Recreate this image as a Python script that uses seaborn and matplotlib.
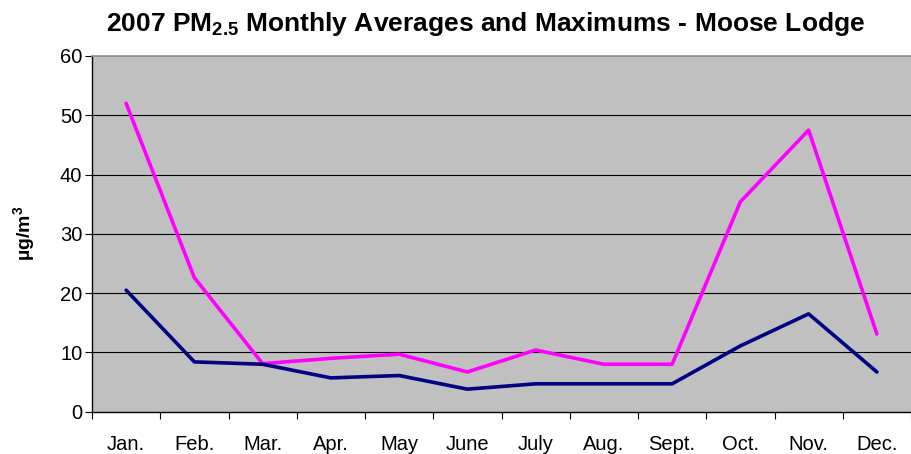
import numpy as np
import pandas as pd
import seaborn as sns
import matplotlib
matplotlib.use("Agg")
import matplotlib.pyplot as plt
from matplotlib.ticker import FixedLocator

# data
months = ["Jan.", "Feb.", "Mar.", "Apr.", "May", "June", "July", "Aug.", "Sept.", "Oct.", "Nov.", "Dec."]
maximums = [52.0, 22.6, 8.1, 9.0, 9.7, 6.7, 10.4, 8.0, 8.0, 35.4, 47.5, 13.1]
averages = [20.5, 8.4, 8.0, 5.7, 6.1, 3.8, 4.7, 4.7, 4.7, 11.1, 16.5, 6.7]
y_ticks = [0, 10, 20, 30, 40, 50, 60]

df = pd.DataFrame({
    "month": list(range(len(months))) * 2,
    "value": maximums + averages,
    "series": ["Maximum"] * len(months) + ["Average"] * len(months),
})

sns.set_style("white")
plt.rcParams["font.family"] = ["Liberation Sans", "DejaVu Sans"]
plt.rcParams["mathtext.fontset"] = "custom"
plt.rcParams["mathtext.rm"] = "Liberation Sans"
plt.rcParams["mathtext.bf"] = "Liberation Sans:bold"
plt.rcParams["text.color"] = "black"
plt.rcParams["xtick.color"] = "black"
plt.rcParams["ytick.color"] = "black"
plt.rcParams["axes.labelcolor"] = "black"

fig = plt.figure(figsize=(9.11, 4.54), dpi=100)
ax = fig.add_axes([0.101, 0.0932, 0.899, 0.7835])
ax.set_facecolor("#C0C0C0")

sns.lineplot(data=df, x="month", y="value", hue="series",
             palette={"Maximum": "#FF00FF", "Average": "#000080"},
             linewidth=2.6, legend=False, ax=ax)

ax.set_xlim(-0.5, len(months) - 0.5)
ax.set_ylim(0, 60)

# gridlines
for v in y_ticks[1:-1]:
    ax.axhline(v, color="black", linewidth=0.8, zorder=0.5)

ax.set_yticks(y_ticks)
ax.set_yticklabels([str(v) for v in y_ticks], fontsize=14.5)
ax.tick_params(axis="y", length=5, width=0.8, color="black", direction="out", left=True, pad=2)

# category boundaries get tick marks, labels sit in the middle
ax.xaxis.set_major_locator(FixedLocator(np.arange(-0.5, len(months), 1.0)))
ax.set_xticklabels([])
ax.set_xticks(np.arange(len(months)), labels=months, minor=True, fontsize=14.5)
ax.tick_params(axis="x", which="major", length=5, width=0.8, color="black", direction="out", bottom=True)
ax.tick_params(axis="x", which="minor", length=0, pad=17)

ax.set_xlabel("")
ax.set_ylabel("µg/m$^\\mathbf{3}$", fontsize=14, fontweight="bold", labelpad=16)

for s in ["left", "bottom"]:
    ax.spines[s].set_color("black")
    ax.spines[s].set_linewidth(1.0)
ax.spines["top"].set_color("#8C8C8C")
ax.spines["top"].set_linewidth(1.2)
ax.spines["right"].set_visible(False)

fig.suptitle("2007 PM$_{\\mathbf{2.5}}$ Monthly Averages and Maximums - Moose Lodge",
             fontsize=19, fontweight="bold", x=0.533, y=0.978, va="top")

fig.savefig("out.png", dpi=100)
